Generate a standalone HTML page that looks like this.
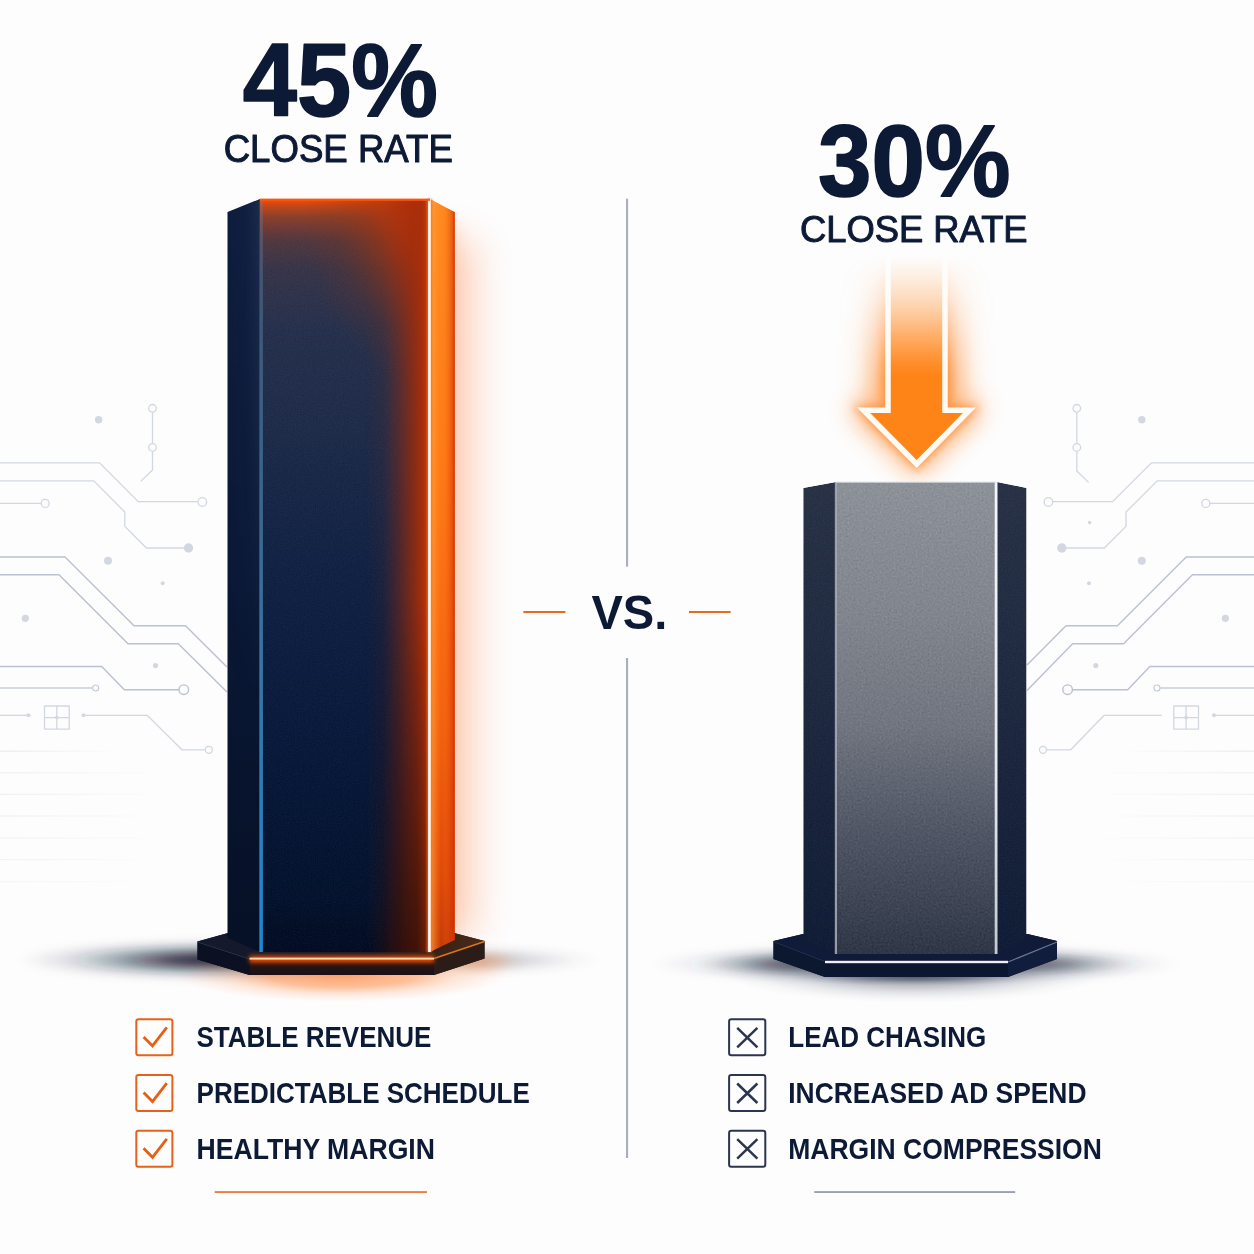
<!DOCTYPE html>
<html lang="en">
<head>
<meta charset="utf-8">
<title>45% vs. 30% Close Rate</title>
<style>
html,body{margin:0;padding:0;background:#fdfdfd;}
body{width:1254px;height:1254px;overflow:hidden;position:relative;font-family:"Liberation Sans",sans-serif;}
svg{position:absolute;left:0;top:0;display:block;}
text{font-family:"Liberation Sans",sans-serif;}
</style>
</head>
<body>
<svg width="1254" height="1254" viewBox="0 0 1254 1254">
<defs>


<filter id="b2" filterUnits="userSpaceOnUse" x="0" y="0" width="1254" height="1254"><feGaussianBlur stdDeviation="2"/></filter>
<filter id="b4" filterUnits="userSpaceOnUse" x="0" y="0" width="1254" height="1254"><feGaussianBlur stdDeviation="4"/></filter>
<filter id="b8" filterUnits="userSpaceOnUse" x="0" y="0" width="1254" height="1254"><feGaussianBlur stdDeviation="8"/></filter>
<filter id="b12" filterUnits="userSpaceOnUse" x="0" y="0" width="1254" height="1254"><feGaussianBlur stdDeviation="12"/></filter>
<filter id="b18" filterUnits="userSpaceOnUse" x="0" y="0" width="1254" height="1254"><feGaussianBlur stdDeviation="18"/></filter>
<filter id="b6" filterUnits="userSpaceOnUse" x="0" y="0" width="1254" height="1254"><feGaussianBlur stdDeviation="7 4"/></filter>
<filter id="b1" filterUnits="userSpaceOnUse" x="0" y="0" width="1254" height="1254"><feGaussianBlur stdDeviation="1"/></filter>
<filter id="texFine" x="0" y="0" width="100%" height="100%" color-interpolation-filters="sRGB">
  <feTurbulence type="fractalNoise" baseFrequency="0.85" numOctaves="2" seed="3" result="n"/>
  <feColorMatrix in="n" type="matrix" values="0.6 0.4 0 0 0  0.6 0.4 0 0 0  0.6 0.4 0 0 0  0 0 0 0 1" result="g"/>
  <feComposite in="SourceGraphic" in2="g" operator="arithmetic" k1="0" k2="1" k3="0.09" k4="-0.045" result="c"/>
  <feComposite in="c" in2="SourceGraphic" operator="in"/>
</filter>
<filter id="texMottle" x="0" y="0" width="100%" height="100%" color-interpolation-filters="sRGB">
  <feTurbulence type="fractalNoise" baseFrequency="0.5" numOctaves="4" seed="7" result="n"/>
  <feColorMatrix in="n" type="matrix" values="0.5 0.5 0 0 0  0.5 0.5 0 0 0  0.5 0.5 0 0 0  0 0 0 0 1" result="g"/>
  <feComposite in="SourceGraphic" in2="g" operator="arithmetic" k1="0" k2="1" k3="0.17" k4="-0.085" result="c"/>
  <feComposite in="c" in2="SourceGraphic" operator="in"/>
</filter>

<!-- left bar -->
<linearGradient id="lFacet" x1="0" y1="0" x2="0" y2="1">
  <stop offset="0" stop-color="#0e1d3d"/><stop offset="0.5" stop-color="#0a1937"/><stop offset="1" stop-color="#061026"/>
</linearGradient>
<linearGradient id="lFacetH" x1="227" y1="0" x2="260" y2="0" gradientUnits="userSpaceOnUse">
  <stop offset="0" stop-color="#2a3c60" stop-opacity="0"/><stop offset="0.55" stop-color="#2a3c60" stop-opacity="0.08"/><stop offset="1" stop-color="#3a4c70" stop-opacity="0.32"/>
</linearGradient>
<linearGradient id="lFacetHV" x1="0" y1="199" x2="0" y2="700" gradientUnits="userSpaceOnUse">
  <stop offset="0" stop-color="#fff" stop-opacity="1"/><stop offset="0.4" stop-color="#fff" stop-opacity="0.7"/><stop offset="1" stop-color="#fff" stop-opacity="0"/>
</linearGradient>
<mask id="mFacetH" maskUnits="userSpaceOnUse" x="200" y="190" width="100" height="800"><rect x="200" y="190" width="100" height="800" fill="url(#lFacetHV)"/></mask>
<linearGradient id="lFront" x1="0" y1="0" x2="0" y2="1">
  <stop offset="0" stop-color="#2f3650"/><stop offset="0.12" stop-color="#2a334e"/><stop offset="0.3" stop-color="#1f2c4a"/><stop offset="0.5" stop-color="#112244"/><stop offset="0.75" stop-color="#08193a"/><stop offset="0.93" stop-color="#05132e"/><stop offset="1" stop-color="#040d22"/>
</linearGradient>
<linearGradient id="lFrontSide" x1="260" y1="0" x2="429" y2="0" gradientUnits="userSpaceOnUse">
  <stop offset="0" stop-color="#a03010" stop-opacity="0"/>
  <stop offset="0.62" stop-color="#a03010" stop-opacity="0"/>
  <stop offset="0.73" stop-color="#9a2e10" stop-opacity="0.1"/>
  <stop offset="0.81" stop-color="#9a2c0e" stop-opacity="0.38"/>
  <stop offset="0.9" stop-color="#a02c0c" stop-opacity="0.76"/>
  <stop offset="0.955" stop-color="#a82e0a" stop-opacity="0.96"/>
  <stop offset="1" stop-color="#c83808" stop-opacity="1"/>
</linearGradient>
<linearGradient id="lFrontSideFade" x1="0" y1="199" x2="0" y2="952" gradientUnits="userSpaceOnUse">
  <stop offset="0" stop-color="#fff" stop-opacity="1"/>
  <stop offset="0.55" stop-color="#fff" stop-opacity="1"/>
  <stop offset="1" stop-color="#fff" stop-opacity="0.9"/>
</linearGradient>
<mask id="mSide" maskUnits="userSpaceOnUse" x="200" y="190" width="300" height="800"><rect x="200" y="190" width="300" height="800" fill="url(#lFrontSideFade)"/></mask>
<linearGradient id="lFrontTop" x1="0" y1="199" x2="0" y2="330" gradientUnits="userSpaceOnUse">
  <stop offset="0" stop-color="#f5520a" stop-opacity="1"/>
  <stop offset="0.04" stop-color="#e04a0e" stop-opacity="0.9"/>
  <stop offset="0.14" stop-color="#c84614" stop-opacity="0.6"/>
  <stop offset="0.32" stop-color="#a8401c" stop-opacity="0.3"/>
  <stop offset="0.55" stop-color="#a04020" stop-opacity="0.1"/>
  <stop offset="1" stop-color="#a04020" stop-opacity="0"/>
</linearGradient>
<radialGradient id="lTopR" gradientUnits="userSpaceOnUse" cx="432" cy="205" r="180" gradientTransform="translate(432 205) scale(0.72 1) translate(-432 -205)">
  <stop offset="0" stop-color="#d83a06" stop-opacity="1"/>
  <stop offset="0.25" stop-color="#c43608" stop-opacity="0.85"/>
  <stop offset="0.5" stop-color="#a8340c" stop-opacity="0.5"/>
  <stop offset="0.75" stop-color="#903210" stop-opacity="0.18"/>
  <stop offset="1" stop-color="#903210" stop-opacity="0"/>
</radialGradient>
<linearGradient id="lSideDarkH" x1="260" y1="0" x2="429" y2="0" gradientUnits="userSpaceOnUse">
  <stop offset="0" stop-color="#1c0804" stop-opacity="0"/>
  <stop offset="0.66" stop-color="#1c0804" stop-opacity="0"/>
  <stop offset="0.82" stop-color="#1c0804" stop-opacity="0.6"/>
  <stop offset="0.93" stop-color="#1c0804" stop-opacity="0.75"/>
  <stop offset="1" stop-color="#3a1004" stop-opacity="0.55"/>
</linearGradient>
<linearGradient id="lSideDarkV" x1="0" y1="600" x2="0" y2="952" gradientUnits="userSpaceOnUse">
  <stop offset="0" stop-color="#fff" stop-opacity="0"/>
  <stop offset="0.6" stop-color="#fff" stop-opacity="0.45"/>
  <stop offset="1" stop-color="#fff" stop-opacity="0.85"/>
</linearGradient>
<mask id="mSideDark" maskUnits="userSpaceOnUse" x="200" y="190" width="300" height="800"><rect x="200" y="190" width="300" height="800" fill="url(#lSideDarkV)"/></mask>
<linearGradient id="rFacetO" x1="0" y1="199" x2="0" y2="952" gradientUnits="userSpaceOnUse">
  <stop offset="0" stop-color="#ff8a20"/><stop offset="0.35" stop-color="#ff7a16"/><stop offset="0.7" stop-color="#f4600e"/><stop offset="0.9" stop-color="#e04808"/><stop offset="1" stop-color="#c43806"/>
</linearGradient>
<linearGradient id="rFacetOH" x1="430" y1="0" x2="455" y2="0" gradientUnits="userSpaceOnUse">
  <stop offset="0" stop-color="#ffb448" stop-opacity="0.75"/><stop offset="0.45" stop-color="#ff8a20" stop-opacity="0"/><stop offset="0.85" stop-color="#d43606" stop-opacity="0.45"/><stop offset="1" stop-color="#cc3004" stop-opacity="0.8"/>
</linearGradient>
<linearGradient id="baseTopL" x1="198" y1="0" x2="484" y2="0" gradientUnits="userSpaceOnUse">
  <stop offset="0" stop-color="#141a2c"/><stop offset="0.6" stop-color="#161826"/><stop offset="0.85" stop-color="#3a2216"/><stop offset="1" stop-color="#4a2a18"/>
</linearGradient>
<linearGradient id="baseFrontL" x1="0" y1="958" x2="0" y2="975" gradientUnits="userSpaceOnUse">
  <stop offset="0" stop-color="#5a1c08"/><stop offset="0.35" stop-color="#2a1412"/><stop offset="1" stop-color="#1a1018"/>
</linearGradient>
<linearGradient id="blueLine" x1="0" y1="199" x2="0" y2="952" gradientUnits="userSpaceOnUse">
  <stop offset="0" stop-color="#6a86a8" stop-opacity="0.28"/><stop offset="0.3" stop-color="#4a7ca8" stop-opacity="0.65"/><stop offset="0.6" stop-color="#3c78a8" stop-opacity="0.95"/><stop offset="0.85" stop-color="#2a80c0" stop-opacity="1"/><stop offset="1" stop-color="#1c88d0" stop-opacity="1"/>
</linearGradient>

<!-- right bar -->
<linearGradient id="gFacet" x1="0" y1="482" x2="0" y2="954" gradientUnits="userSpaceOnUse">
  <stop offset="0" stop-color="#293246"/><stop offset="0.5" stop-color="#1e2940"/><stop offset="1" stop-color="#111c36"/>
</linearGradient>
<linearGradient id="gFront" x1="0" y1="482" x2="0" y2="954" gradientUnits="userSpaceOnUse">
  <stop offset="0" stop-color="#8d9198"/><stop offset="0.28" stop-color="#81858e"/><stop offset="0.52" stop-color="#70757f"/><stop offset="0.75" stop-color="#4f5564"/><stop offset="0.92" stop-color="#3a4151"/><stop offset="1" stop-color="#2f3646"/>
</linearGradient>

<radialGradient id="shN" cx="0.5" cy="0.5" r="0.5">
  <stop offset="0" stop-color="#070d20" stop-opacity="0.95"/><stop offset="0.25" stop-color="#0a1226" stop-opacity="0.78"/><stop offset="0.5" stop-color="#0e1730" stop-opacity="0.4"/><stop offset="0.75" stop-color="#141c36" stop-opacity="0.13"/><stop offset="1" stop-color="#141c36" stop-opacity="0"/>
</radialGradient>
<radialGradient id="shG" cx="0.5" cy="0.5" r="0.5">
  <stop offset="0" stop-color="#1a2238" stop-opacity="0.75"/><stop offset="0.4" stop-color="#1e2840" stop-opacity="0.5"/><stop offset="0.65" stop-color="#2a3450" stop-opacity="0.22"/><stop offset="0.85" stop-color="#2a3450" stop-opacity="0.06"/><stop offset="1" stop-color="#2a3450" stop-opacity="0"/>
</radialGradient>
<radialGradient id="shO" cx="0.5" cy="0.5" r="0.5">
  <stop offset="0" stop-color="#ff6a18" stop-opacity="0.95"/><stop offset="0.45" stop-color="#ff7420" stop-opacity="0.7"/><stop offset="0.7" stop-color="#ff8a40" stop-opacity="0.3"/><stop offset="1" stop-color="#ff9a60" stop-opacity="0"/>
</radialGradient>
<linearGradient id="rLine" x1="0" y1="482" x2="0" y2="954" gradientUnits="userSpaceOnUse">
  <stop offset="0" stop-color="#f4f5f8"/><stop offset="0.6" stop-color="#e6e8ee"/><stop offset="1" stop-color="#c4c8d2"/>
</linearGradient>
<!-- arrow -->
<linearGradient id="arrFade" x1="0" y1="256" x2="0" y2="376" gradientUnits="userSpaceOnUse">
  <stop offset="0" stop-color="#fff" stop-opacity="0"/><stop offset="0.15" stop-color="#fff" stop-opacity="0.1"/><stop offset="0.35" stop-color="#fff" stop-opacity="0.27"/><stop offset="0.55" stop-color="#fff" stop-opacity="0.5"/><stop offset="0.75" stop-color="#fff" stop-opacity="0.76"/><stop offset="0.9" stop-color="#fff" stop-opacity="0.93"/><stop offset="1" stop-color="#fff" stop-opacity="1"/>
</linearGradient>
<mask id="mArr" maskUnits="userSpaceOnUse" x="760" y="230" width="320" height="280"><rect x="760" y="230" width="320" height="280" fill="url(#arrFade)"/></mask>
<linearGradient id="fadeL" x1="0" y1="0" x2="1" y2="0">
  <stop offset="0" stop-color="#d6dbe6" stop-opacity="0.8"/><stop offset="1" stop-color="#d6dbe6" stop-opacity="0"/>
</linearGradient>
<linearGradient id="fadeR" x1="0" y1="0" x2="1" y2="0">
  <stop offset="0" stop-color="#d6dbe6" stop-opacity="0"/><stop offset="1" stop-color="#d6dbe6" stop-opacity="0.8"/>
</linearGradient>
</defs>

<g id="circuits">
<g fill="none" stroke="#d2d7e1" stroke-width="1.3" stroke-linejoin="round">
<path d="M152.5 412.5V443M152.5 451.5V470L140.7 481.4"/>
<circle cx="152.5" cy="408.3" r="3.8"/><circle cx="152.5" cy="447.4" r="3.8"/>
<path d="M0 462.9H99.5L138.2 501.6H197.8"/><circle cx="202.3" cy="502" r="4.3"/>
<path d="M0 480.9H93.8L124.8 512V526.4L146.4 548H184"/>
<path d="M0 503.4H41"/><circle cx="45.2" cy="503.4" r="4"/>
</g>
<g fill="none" stroke="#bac1d0" stroke-width="1.4" stroke-linejoin="round">
<path d="M0 557H65L134 625.8H185.5L227 667"/>
<path d="M0 574.8H59L128 643.8H178.3L227 692"/>
<path d="M0 666.5H101.7L124.4 689.7H178.8"/><circle cx="183.8" cy="689.7" r="4.8"/>
<path d="M0 688H92.5" stroke="#c6ccd9"/><circle cx="95.7" cy="688" r="3" stroke="#c6ccd9" stroke-width="1.2"/>
</g>
<g fill="none" stroke="#d2d7e1" stroke-width="1.3" stroke-linejoin="round">
<path d="M0 715.3H28"/><path d="M84 715.3H147.2L181.9 749.8H205.4"/><circle cx="208.9" cy="749.8" r="3.5"/>
<rect x="44.5" y="706" width="24.7" height="23.2"/><path d="M56.8 706V729.2M44.5 717.6H69.2"/>
</g>
<g fill="#d2d7e1">
<circle cx="188.5" cy="548" r="4.7"/><circle cx="98.6" cy="419.8" r="3.7"/><circle cx="108" cy="560.7" r="4"/>
<circle cx="162.7" cy="583.3" r="2"/><circle cx="25.3" cy="618.3" r="3.6"/><circle cx="155.5" cy="665.6" r="2.6"/>
<circle cx="28.5" cy="715.3" r="2"/><circle cx="83.5" cy="715.3" r="2"/><circle cx="56.8" cy="717.6" r="1.8"/>
</g>
<rect x="0" y="750.6" width="120" height="1.2" fill="url(#fadeL)" opacity="0.7"/>
<rect x="0" y="772.1999999999999" width="160" height="1.2" fill="url(#fadeL)" opacity="0.5"/>
<rect x="0" y="793.6999999999999" width="165" height="1.2" fill="url(#fadeL)" opacity="0.5"/>
<rect x="0" y="815.4" width="165" height="1.2" fill="url(#fadeL)" opacity="0.5"/>
<rect x="0" y="837.4" width="165" height="1.2" fill="url(#fadeL)" opacity="0.45"/>
<rect x="0" y="859.0" width="165" height="1.2" fill="url(#fadeL)" opacity="0.4"/>
<rect x="0" y="881.0" width="160" height="1.2" fill="url(#fadeL)" opacity="0.3"/>
<g fill="none" stroke="#d2d7e1" stroke-width="1.3" stroke-linejoin="round">
<path d="M1076.8 412.5V443M1076.8 451.5V471L1088.6 482.4"/>
<circle cx="1076.8" cy="408.3" r="3.8"/><circle cx="1076.8" cy="447.4" r="3.8"/>
<path d="M1254 462.9H1151.4L1112.6 501.6H1053"/><circle cx="1048.4" cy="502" r="4.3"/>
<path d="M1254 480.9H1157.2L1126 512V526.4L1104.3 548H1066"/>
<path d="M1254 503.4H1210"/><circle cx="1205.8" cy="503.4" r="4"/>
</g>
<g fill="none" stroke="#bac1d0" stroke-width="1.4" stroke-linejoin="round">
<path d="M1254 557H1186.2L1117.4 625.8H1066L1027 665"/>
<path d="M1254 574.8H1192.4L1123.6 643.8H1072.6L1027 690.5"/>
<path d="M1254 666.5H1149.9L1127.7 689.7H1072.6"/><circle cx="1067.6" cy="689.7" r="4.8"/>
<path d="M1254 688H1160.4" stroke="#c6ccd9"/><circle cx="1157" cy="688" r="3" stroke="#c6ccd9" stroke-width="1.2"/>
</g>
<g fill="none" stroke="#d2d7e1" stroke-width="1.3" stroke-linejoin="round">
<path d="M1254 715.3H1214"/><path d="M1161.9 715.3H1104.2L1070.7 749.8H1046.5"/><circle cx="1043" cy="749.8" r="3.5"/>
<rect x="1173.8" y="706" width="24.7" height="23.2"/><path d="M1186.1 706V729.2M1173.8 717.6H1198.5"/>
</g>
<g fill="#d2d7e1">
<circle cx="1061.8" cy="548" r="4.7"/><circle cx="1141.8" cy="419.8" r="3.7"/><circle cx="1141.8" cy="560.7" r="4"/>
<circle cx="1089" cy="583.3" r="2"/><circle cx="1225.4" cy="618.3" r="3.6"/><circle cx="1095.8" cy="665.6" r="2.6"/>
<circle cx="1089.6" cy="522.6" r="1.8"/><circle cx="1214" cy="715.3" r="2"/><circle cx="1186.1" cy="717.6" r="1.8"/>
</g>
<rect x="1119" y="750.6" width="135" height="1.2" fill="url(#fadeR)" opacity="0.7"/>
<rect x="1094" y="772.1999999999999" width="160" height="1.2" fill="url(#fadeR)" opacity="0.5"/>
<rect x="1089" y="793.6999999999999" width="165" height="1.2" fill="url(#fadeR)" opacity="0.5"/>
<rect x="1089" y="815.4" width="165" height="1.2" fill="url(#fadeR)" opacity="0.5"/>
<rect x="1089" y="837.4" width="165" height="1.2" fill="url(#fadeR)" opacity="0.45"/>
<rect x="1089" y="859.0" width="165" height="1.2" fill="url(#fadeR)" opacity="0.4"/>
<rect x="1094" y="881.0" width="160" height="1.2" fill="url(#fadeR)" opacity="0.3"/>
</g>
<g id="divider" fill="#a9afbd"><rect x="626" y="198.7" width="2.1" height="368"/><rect x="626" y="658" width="2.1" height="500"/></g>
<g id="dashes" fill="#ea6a1c"><rect x="523.4" y="611" width="42" height="2"/><rect x="689" y="611" width="41.6" height="2"/></g>
<g id="leftbar">
<ellipse cx="470" cy="960" rx="135" ry="14" fill="url(#shG)" opacity="0.4" filter="url(#b6)"/>
<ellipse cx="478" cy="962" rx="45" ry="13" fill="url(#shO)" opacity="0.4" filter="url(#b6)"/>
<ellipse cx="215" cy="960" rx="195" ry="20" fill="url(#shN)" filter="url(#b6)"/>
<ellipse cx="342" cy="975" rx="165" ry="27" fill="url(#shO)" opacity="0.65"/>
<rect x="436" y="240" width="40" height="695" fill="#ff6a20" opacity="0.29" filter="url(#b18)"/>
<rect x="446" y="222" width="12" height="720" fill="#ff5a10" opacity="0.16" filter="url(#b8)"/>
<polygon points="197.5,941.5 228,933 454,933 484.5,941 484.5,958.5 434,975 249.5,975 197.5,959.5" fill="#0b0f1e"/>
<polygon points="197.5,941.5 228,933 454,933 484.5,941 434,958.5 249.5,958.5" fill="url(#baseTopL)"/>
<polygon points="249.5,958.5 434,958.5 434,975 249.5,975" fill="url(#baseFrontL)"/>
<polygon points="434,958.5 484.5,941 484.5,958.5 434,975" fill="#2c1c18"/>
<polygon points="197.5,941.5 249.5,958.5 249.5,975 197.5,959.5" fill="#0b1122"/>
<path d="M197.5 942L249.5 959" stroke="#3a4258" stroke-width="1" opacity="0.7"/>
<rect x="249.5" y="955.5" width="184.5" height="7" fill="#ff5208" opacity="0.85" filter="url(#b2)"/>
<rect x="249.5" y="957.6" width="184.5" height="2" fill="#ffd6a0"/>
<path d="M434 958.6L484.5 941.6" stroke="#e07a20" stroke-width="1.6" opacity="0.95"/>
<polygon points="227.5,212 260,199 260,952 227.5,938" fill="url(#lFacet)"/>
<polygon points="227.5,212 260,199 260,952 227.5,938" fill="url(#lFacetH)" mask="url(#mFacetH)"/>
<rect x="260" y="199" width="170" height="753" fill="url(#lFront)" filter="url(#texFine)"/>
<rect x="260" y="199" width="170" height="753" fill="url(#lFrontTop)"/>
<rect x="260" y="199" width="170" height="753" fill="url(#lTopR)"/>
<rect x="260" y="199" width="170" height="753" fill="url(#lFrontSide)" mask="url(#mSide)"/>
<rect x="260" y="199" width="170" height="753" fill="url(#lSideDarkH)" mask="url(#mSideDark)"/>
<polygon points="430,199 454.5,212 454.5,940 430,952" fill="url(#rFacetO)"/>
<polygon points="430,199 454.5,212 454.5,940 430,952" fill="url(#rFacetOH)"/>
<path d="M454.2 212V940" stroke="#d83004" stroke-width="1.2" opacity="0.8"/>
<rect x="259.3" y="199" width="3.6" height="753" fill="url(#blueLine)"/>
<rect x="427" y="199" width="5" height="753" fill="#ff6a18" opacity="0.9" filter="url(#b1)"/>
<rect x="428.1" y="199" width="2.7" height="753" fill="#fffaf2"/>
<rect x="260" y="198.6" width="170" height="2.2" fill="#ff5608"/>
</g>
<g id="arrow" mask="url(#mArr)">
<rect x="876" y="250" width="81" height="165" fill="#ff8020" opacity="0.5" filter="url(#b18)"/>
<path d="M888 240V410.3H863.5L916.7 464L969.5 410.3H945V240Z" fill="#ff7a14" stroke="#ff7a14" stroke-width="22" stroke-linejoin="round" opacity="0.5" filter="url(#b12)"/>
<path d="M888 240V410.3H863.5L916.7 464L969.5 410.3H945V240Z" fill="#ff7a14" stroke="#ff7a14" stroke-width="9" opacity="0.6" filter="url(#b4)"/>
<path d="M888 240V410.3H863.5L916.7 464L969.5 410.3H945V240Z" fill="#ff8418"/>
<path d="M888 240V410.3H863.5L916.7 464L969.5 410.3H945V240" fill="none" stroke="#fffaf4" stroke-width="5.5" stroke-linejoin="miter"/>
</g>
<g id="rightbar">
<ellipse cx="915" cy="964" rx="265" ry="20" fill="url(#shG)" filter="url(#b6)"/>
<ellipse cx="790" cy="964" rx="95" ry="13" fill="url(#shN)" opacity="0.62" filter="url(#b6)"/>
<ellipse cx="1045" cy="964" rx="100" ry="12" fill="url(#shN)" opacity="0.5" filter="url(#b6)"/>
<ellipse cx="915" cy="976" rx="185" ry="27" fill="url(#shG)" opacity="0.5"/>
<ellipse cx="915" cy="977" rx="130" ry="9" fill="url(#shG)" opacity="0.6"/>
<polygon points="773.5,941 803,934 1027.5,934 1057,941 1057,959 1008,977 825,977 773.5,959" fill="#0a142c"/>
<polygon points="773.5,941 803,934 1027.5,934 1057,941 1008,961 825,961" fill="#0f1b38"/>
<polygon points="825,961 1008,961 1008,977 825,977" fill="#0b1630"/>
<polygon points="1008,961 1057,941 1057,959 1008,977" fill="#101d3c"/>
<polygon points="773.5,941 825,961 825,977 773.5,959" fill="#0c1730"/>
<rect x="825" y="960.8" width="183" height="2.4" fill="#eef0f4"/>
<path d="M1008 962L1057 942" stroke="#7a86a0" stroke-width="1.2" opacity="0.85"/>
<path d="M773.5 941.5L825 961.5" stroke="#2a3858" stroke-width="1" opacity="0.8"/>
<polygon points="803.3,488 836,482 836,954 803.3,940" fill="url(#gFacet)" filter="url(#texFine)"/>
<polygon points="997,482 1026.5,488 1026.5,940 997,954" fill="url(#gFacet)" filter="url(#texFine)"/>
<rect x="836" y="482" width="161" height="472" fill="url(#gFront)" filter="url(#texMottle)"/>
<rect x="834.8" y="482" width="2.2" height="472" fill="#a4a9b5" opacity="0.9"/>
<rect x="994.7" y="482" width="2.8" height="472" fill="url(#rLine)"/>
<rect x="836" y="481.6" width="160" height="1.2" fill="#d8dbe2" opacity="0.9"/>
</g>
<g id="checks">
<rect x="136.3" y="1019.3" width="36.1" height="36" rx="2.2" fill="none" stroke="#e8611a" stroke-width="2"/>
<path d="M143.6 1036.9L152.5 1045.9L166.8 1027.4" fill="none" stroke="#e85f14" stroke-width="2.8"/>
<rect x="729.1" y="1019.3" width="36.2" height="36" rx="2.2" fill="none" stroke="#2b3550" stroke-width="2"/>
<path d="M737.2 1027.8L757.4 1047.3M757.4 1027.8L737.2 1047.3" fill="none" stroke="#2b3550" stroke-width="2.5"/>
<rect x="136.3" y="1075.0" width="36.1" height="36" rx="2.2" fill="none" stroke="#e8611a" stroke-width="2"/>
<path d="M143.6 1092.6L152.5 1101.6L166.8 1083.1" fill="none" stroke="#e85f14" stroke-width="2.8"/>
<rect x="729.1" y="1075.0" width="36.2" height="36" rx="2.2" fill="none" stroke="#2b3550" stroke-width="2"/>
<path d="M737.2 1083.5L757.4 1103.0M757.4 1083.5L737.2 1103.0" fill="none" stroke="#2b3550" stroke-width="2.5"/>
<rect x="136.3" y="1130.7" width="36.1" height="36" rx="2.2" fill="none" stroke="#e8611a" stroke-width="2"/>
<path d="M143.6 1148.3L152.5 1157.3L166.8 1138.8" fill="none" stroke="#e85f14" stroke-width="2.8"/>
<rect x="729.1" y="1130.7" width="36.2" height="36" rx="2.2" fill="none" stroke="#2b3550" stroke-width="2"/>
<path d="M737.2 1139.2L757.4 1158.7M757.4 1139.2L737.2 1158.7" fill="none" stroke="#2b3550" stroke-width="2.5"/>
</g>
<rect x="214.7" y="1191.2" width="212.3" height="1.7" fill="#e8702c"/>
<rect x="814.2" y="1191.2" width="201" height="1.7" fill="#8d97aa"/>
<g id="labels">
<text transform="matrix(0.9740 0 0 1.0326 242.84 116.27)" font-family="Liberation Sans, sans-serif" font-weight="bold" font-size="100" fill="#0d1a36" stroke="#0d1a36" stroke-width="1.59" stroke-linejoin="round" paint-order="stroke">45%</text>
<text transform="matrix(0.3660 0 0 0.3789 223.67 162.02)" font-family="Liberation Sans, sans-serif" font-weight="normal" font-size="100" fill="#0d1a36" stroke="#0d1a36" stroke-width="2.69" stroke-linejoin="round" paint-order="stroke">CLOSE RATE</text>
<text transform="matrix(0.9615 0 0 1.0169 818.10 196.28)" font-family="Liberation Sans, sans-serif" font-weight="bold" font-size="100" fill="#0d1a36" stroke="#0d1a36" stroke-width="1.62" stroke-linejoin="round" paint-order="stroke">30%</text>
<text transform="matrix(0.3639 0 0 0.3732 799.88 242.03)" font-family="Liberation Sans, sans-serif" font-weight="normal" font-size="100" fill="#0d1a36" stroke="#0d1a36" stroke-width="2.71" stroke-linejoin="round" paint-order="stroke">CLOSE RATE</text>
<text transform="matrix(0.4710 0 0 0.4873 591.43 629.11)" font-family="Liberation Sans, sans-serif" font-weight="bold" font-size="100" fill="#0d1a36" >VS.</text>
<text transform="matrix(0.2601 0 0 0.2944 196.42 1047.11)" font-family="Liberation Sans, sans-serif" font-weight="bold" font-size="100" fill="#0d1a36" >STABLE REVENUE</text>
<text transform="matrix(0.2600 0 0 0.2944 196.61 1102.81)" font-family="Liberation Sans, sans-serif" font-weight="bold" font-size="100" fill="#0d1a36" >PREDICTABLE SCHEDULE</text>
<text transform="matrix(0.2661 0 0 0.2944 196.57 1158.51)" font-family="Liberation Sans, sans-serif" font-weight="bold" font-size="100" fill="#0d1a36" >HEALTHY MARGIN</text>
<text transform="matrix(0.2601 0 0 0.2944 788.31 1047.11)" font-family="Liberation Sans, sans-serif" font-weight="bold" font-size="100" fill="#0d1a36" >LEAD CHASING</text>
<text transform="matrix(0.2640 0 0 0.2944 788.28 1102.81)" font-family="Liberation Sans, sans-serif" font-weight="bold" font-size="100" fill="#0d1a36" >INCREASED AD SPEND</text>
<text transform="matrix(0.2651 0 0 0.2944 788.28 1158.51)" font-family="Liberation Sans, sans-serif" font-weight="bold" font-size="100" fill="#0d1a36" >MARGIN COMPRESSION</text>
</g>
</svg>
</body>
</html>
